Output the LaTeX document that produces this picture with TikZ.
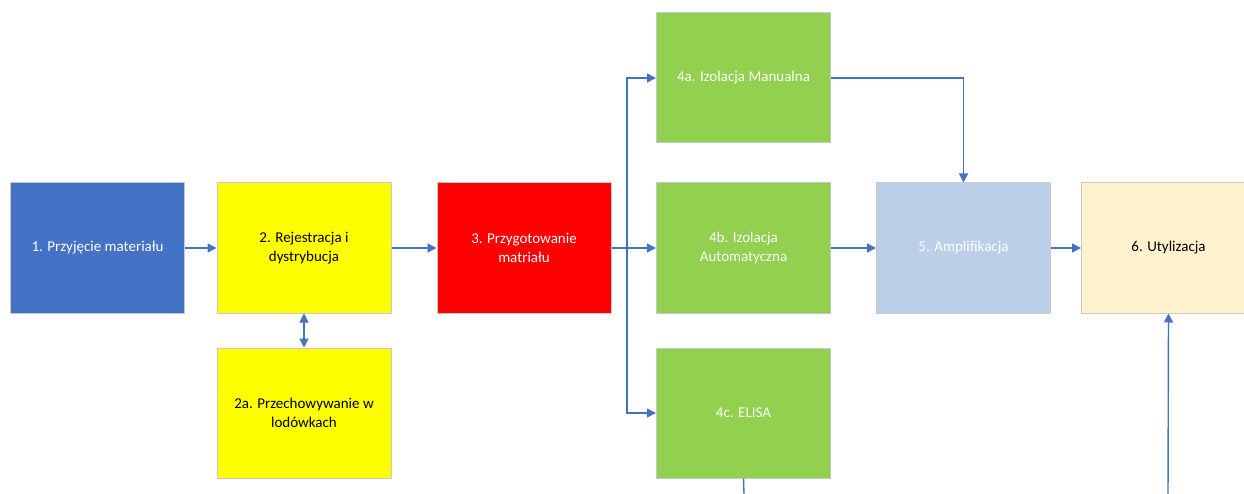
\documentclass[tikz,border=0pt]{standalone}
\usepackage{fontspec}
\setmainfont{Carlito}
\usetikzlibrary{arrows.meta}
\definecolor{cblue}{HTML}{4472C4}
\definecolor{cyel}{HTML}{FFFF00}
\definecolor{cred}{HTML}{FF0000}
\definecolor{cgreen}{HTML}{92D050}
\definecolor{clblue}{HTML}{BCCFE8}
\definecolor{ccream}{HTML}{FFF2CC}
\definecolor{cline}{HTML}{4472C4}
\definecolor{cbord}{HTML}{C8C8C8}
\begin{document}
\begin{tikzpicture}[x=1pt,y=-1pt,
  box/.style={draw=cbord,line width=1pt,minimum width=174pt,minimum height=130pt,inner sep=0pt,align=center,font=\fontsize{15}{18.5}\selectfont},
  conn/.style={draw=cline,line width=1.4pt,-{Triangle[length=9pt,width=9pt]}},
  plainconn/.style={draw=cline,line width=1.4pt}]
\useasboundingbox (0,0) rectangle (1244,494);
\fill[white] (0,0) rectangle (1244,494);
\node[box,fill=cblue,text=white] (n1) at (97.5,248) {1. Przyjęcie materiału};
\node[box,fill=cyel,text=black] (n2) at (304,248) {2. Rejestracja i\\dystrybucja};
\node[box,fill=cyel,text=black] (n2a) at (304,413) {2a. Przechowywanie w\\lodówkach};
\node[box,fill=cred,text=white] (n3) at (524,248) {3. Przygotowanie\\matriału};
\node[box,fill=cgreen,text=white] (n4a) at (743.5,78) {4a. Izolacja Manualna};
\node[box,fill=cgreen,text=white] (n4b) at (743.5,248) {4b. Izolacja\\Automatyczna};
\node[box,fill=cgreen,text=white] (n4c) at (743.5,413) {4c. ELISA};
\node[box,fill=clblue,text=white] (n5) at (963.5,248) {5. Amplifikacja};
\node[box,fill=ccream,text=black] (n6) at (1168.5,248) {6. Utylizacja};
\coordinate (br) at (627,248);
\coordinate (c4c) at (744,494);
\coordinate (c6) at (1168,494);
\draw[conn] (n1) -- (n2);
\draw[plainconn,{Triangle[length=9pt,width=9pt]}-{Triangle[length=9pt,width=9pt]}] (n2) -- (n2a);
\draw[conn] (n3) -- (n4b);
\draw[conn] (br) |- (n4a.west);
\draw[conn] (br) |- (n4c.west);
\draw[conn] (n4a.east) -| (n5.north);
\draw[conn] (n4b) -- (n5);
\draw[conn] (n5) -- (n6);
\draw[conn] (n2) -- (n3);
\draw[plainconn] (n4c.south) -- (c4c);
\draw[conn] (c6) -- (n6.south);
\end{tikzpicture}
\end{document}
